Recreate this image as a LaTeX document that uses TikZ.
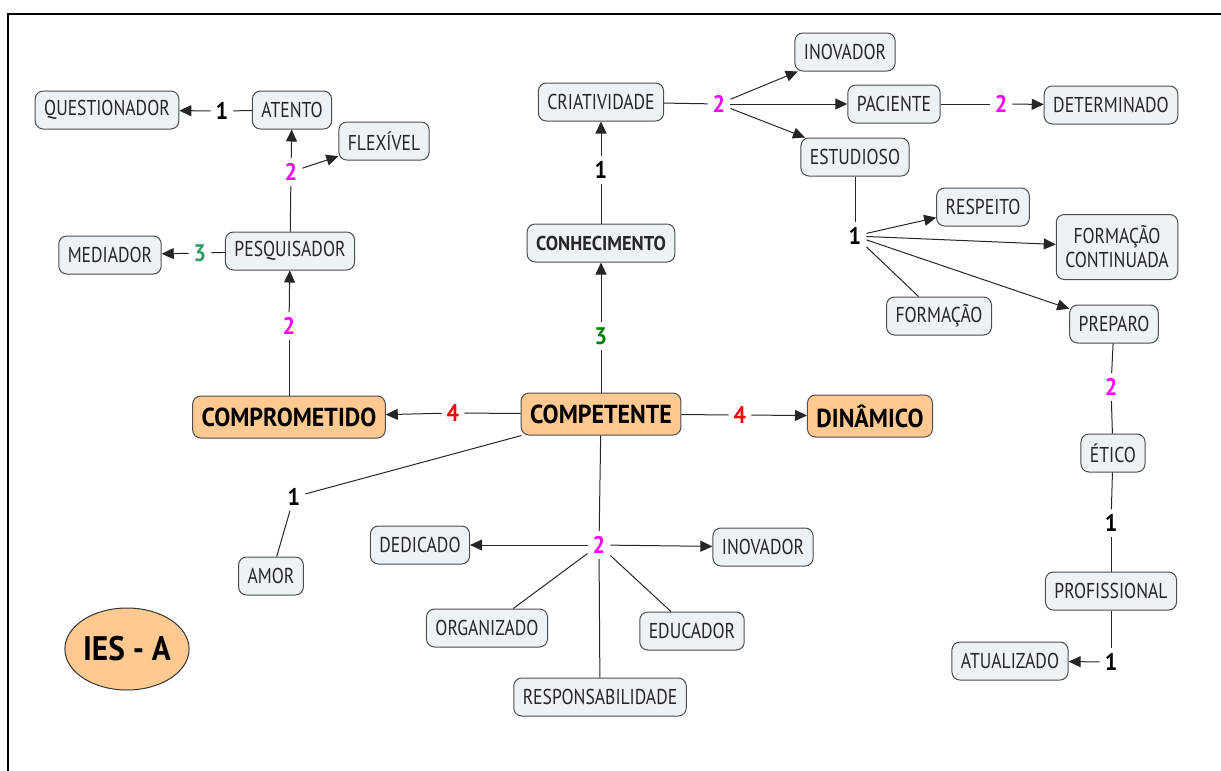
\documentclass[tikz,border=0pt]{standalone}
\usepackage{fontspec}
\usetikzlibrary{arrows.meta,shapes.geometric}
\newfontfamily\mapfont{PT Sans}[FakeStretch=0.82]
\newfontfamily\keyfamily{PT Sans}[FakeStretch=0.92]
\definecolor{boxfill}{HTML}{EDF3F5}
\definecolor{boxline}{HTML}{4D4D4D}
\definecolor{keyfill}{HTML}{FFC991}
\definecolor{linkpink}{HTML}{FF00FF}
\definecolor{linkred}{HTML}{FF0000}
\definecolor{linkgreen}{HTML}{008000}
\definecolor{linkteal}{HTML}{339966}

\begin{document}
\begin{tikzpicture}
	[x=1pt, y=-1pt,
	concept/.style={draw=boxline, fill=boxfill, rounded corners=8pt, line width=1pt,
		minimum height=38pt, inner xsep=9pt, text=black!85,
		font=\mapfont\fontsize{21.5}{24}\selectfont},
	keyconcept/.style={concept, fill=keyfill, minimum height=42pt, text=black,
		font=\keyfamily\bfseries\fontsize{26}{28}\selectfont},
	linkword/.style={inner sep=5pt, font=\keyfamily\bfseries\fontsize{24}{26}\selectfont},
	plainlink/.style={line width=1pt, draw=black!85},
	arrowlink/.style={plainlink, -{Triangle[length=12pt,width=11pt]}}]
	\useasboundingbox (0,0) rectangle (1221,771);
	\draw[line width=2pt] (1221,14) -- (8,14) -- (8,771);

	\node[keyconcept] (competente) at (601,414) {COMPETENTE};
	\node[keyconcept] (comprometido) at (289,417) {COMPROMETIDO};
	\node[keyconcept] (dinamico) at (870,416) {DINÂMICO};
	\node[concept, font=\keyfamily\bfseries\fontsize{20}{24}\selectfont] (conhecimento) at (601,243) {CONHECIMENTO};
	\node[concept] (criatividade) at (601,102) {CRIATIVIDADE};
	\node[concept] (inovadorA) at (845,52) {INOVADOR};
	\node[concept] (paciente) at (894,104) {PACIENTE};
	\node[concept] (determinado) at (1111,105) {DETERMINADO};
	\node[concept] (estudioso) at (855,157) {ESTUDIOSO};
	\node[concept] (respeito) at (983,207) {RESPEITO};
	\node[concept, align=center, minimum height=65pt] (formacont) at (1117,247) {FORMAÇÃO\\CONTINUADA};
	\node[concept] (formacao) at (939,316) {FORMAÇÃO};
	\node[concept] (preparo) at (1114,324) {PREPARO};
	\node[concept] (etico) at (1113,453) {ÉTICO};
	\node[concept] (profissional) at (1111,591) {PROFISSIONAL};
	\node[concept] (atualizado) at (1010,661) {ATUALIZADO};
	\node[concept] (questionador) at (107,110) {QUESTIONADOR};
	\node[concept] (atento) at (292,110) {ATENTO};
	\node[concept] (flexivel) at (384,141) {FLEXÍVEL};
	\node[concept] (pesquisador) at (290,251) {PESQUISADOR};
	\node[concept] (mediador) at (110,255) {MEDIADOR};
	\node[concept] (amor) at (271,576) {AMOR};
	\node[concept] (dedicado) at (420,545) {DEDICADO};
	\node[concept] (inovadorB) at (763,547) {INOVADOR};
	\node[concept] (organizado) at (487,628) {ORGANIZADO};
	\node[concept] (educador) at (692,631) {EDUCADOR};
	\node[concept] (responsab) at (600,697) {RESPONSABILIDADE};
	\node[ellipse, draw=black!80, fill=keyfill, line width=1pt, inner sep=0pt,
		minimum width=124pt, minimum height=82pt,
		font=\keyfamily\bfseries\fontsize{34}{40}\selectfont] (ies) at (127,649) {IES - A};

	\node[linkword] (l1q) at (222,111) {1};
	\node[linkword, text=linkpink] (l2p) at (291,172) {2};
	\node[linkword, text=linkteal] (l3m) at (200,253) {3};
	\node[linkword, text=linkpink] (l2c) at (289,326) {2};
	\node[linkword, text=linkred] (l4l) at (453,413) {4};
	\node[linkword, text=linkred] (l4r) at (740,415) {4};
	\node[linkword, text=linkgreen] (l3k) at (601,336) {3};
	\node[linkword] (l1k) at (601,170) {1};
	\node[linkword, text=linkpink] (l2k) at (719,104) {2};
	\node[linkword, text=linkpink] (l2d) at (1001,104) {2};
	\node[linkword] (l1e) at (855,236) {1};
	\node[linkword, text=linkpink] (l2e) at (1111,387) {2};
	\node[linkword] (l1t) at (1111,523) {1};
	\node[linkword] (l1p) at (1111,662) {1};
	\node[linkword] (l1a) at (294,497) {1};
	\node[linkword, text=linkpink] (l2b) at (599,545) {2};

	\draw[plainlink] (atento) -- (l1q);
	\draw[arrowlink] (l1q) -- (questionador);
	\draw[plainlink] (pesquisador) -- (l2p);
	\draw[arrowlink] (l2p) -- (atento);
	\draw[arrowlink] (l2p) -- (flexivel);
	\draw[plainlink] (pesquisador) -- (l3m);
	\draw[arrowlink] (l3m) -- (mediador);
	\draw[plainlink] (comprometido) -- (l2c);
	\draw[arrowlink] (l2c) -- (pesquisador);
	\draw[plainlink] (competente) -- (l4l);
	\draw[arrowlink] (l4l) -- (comprometido);
	\draw[plainlink] (competente) -- (l4r);
	\draw[arrowlink] (l4r) -- (dinamico);
	\draw[plainlink] (competente) -- (l3k);
	\draw[arrowlink] (l3k) -- (conhecimento);
	\draw[plainlink] (conhecimento) -- (l1k);
	\draw[arrowlink] (l1k) -- (criatividade);
	\draw[plainlink] (criatividade) -- (l2k);
	\foreach \t in {inovadorA,paciente,estudioso}
		\draw[arrowlink] (l2k) -- (\t);
	\draw[plainlink] (paciente) -- (l2d);
	\draw[arrowlink] (l2d) -- (determinado);
	\draw[plainlink] (estudioso) -- (l1e);
	\foreach \t in {respeito,formacont,preparo}
		\draw[arrowlink] (l1e) -- (\t);
	\draw[plainlink] (l1e) -- (formacao);
	\draw[plainlink] (preparo) -- (l2e);
	\draw[plainlink] (l2e) -- (etico);
	\draw[plainlink] (etico) -- (l1t);
	\draw[plainlink] (l1t) -- (profissional);
	\draw[plainlink] (profissional) -- (l1p);
	\draw[arrowlink] (l1p) -- (atualizado);
	\draw[plainlink] (competente) -- (l1a);
	\draw[plainlink] (l1a) -- (amor);
	\draw[plainlink] (competente) -- (l2b);
	\foreach \t in {dedicado,inovadorB}
		\draw[arrowlink] (l2b) -- (\t);
	\foreach \t in {organizado,educador,responsab}
		\draw[plainlink] (l2b) -- (\t);
\end{tikzpicture}
\end{document}
